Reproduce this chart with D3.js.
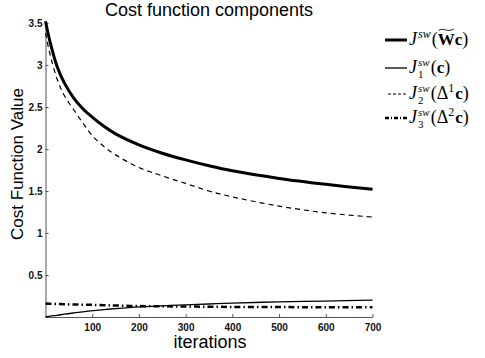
<!DOCTYPE html>
<html>
<head>
<meta charset="utf-8">
<script src="https://cdn.jsdelivr.net/npm/d3@7"></script>
<style>
  body { margin: 0; background: #fff; }
  svg { display: block; }
  .tick text { font-family: "Liberation Sans", Arial, sans-serif; font-weight: bold; font-size: 10px; fill: #111; }
</style>
</head>
<body>
<div id="chart"></div>
<script>
// values (iteration -> cost)
const iters = [0, 10, 25, 40, 60, 80, 100, 125, 150, 200, 250, 300, 350, 400, 500, 600, 700];
const jTotal = [3.52, 3.27, 2.98, 2.79, 2.61, 2.48, 2.38, 2.27, 2.18, 2.05, 1.95, 1.87, 1.80, 1.74, 1.65, 1.58, 1.52];
const jDelta1 = [3.38, 3.12, 2.83, 2.64, 2.47, 2.31, 2.16, 2.03, 1.93, 1.78, 1.68, 1.59, 1.50, 1.43, 1.32, 1.24, 1.19];
const jPlain = [0.0, 0.01, 0.02, 0.033, 0.048, 0.062, 0.075, 0.088, 0.10, 0.12, 0.133, 0.145, 0.155, 0.165, 0.18, 0.19, 0.20];
const jDelta2 = [0.16, 0.158, 0.155, 0.152, 0.149, 0.147, 0.145, 0.14, 0.137, 0.13, 0.127, 0.125, 0.122, 0.12, 0.118, 0.116, 0.115];

const xTicks = [100, 200, 300, 400, 500, 600, 700];
const yTicks = [0.5, 1, 1.5, 2, 2.5, 3, 3.5];

const width = 485, height = 358;

const svg = d3.select('#chart').append('svg')
  .attr('width', width)
  .attr('height', height);

const xScale = d3.scaleLinear().domain([0, 700]).range([45.5, 372.5]);
const yScale = d3.scaleLinear().domain([0, 3.5]).range([317, 23]);

// title
svg.append('text')
  .attr('x', 209)
  .attr('y', 16)
  .attr('text-anchor', 'middle')
  .style('font-family', '"Liberation Sans", Arial, sans-serif')
  .style('font-size', '18px')
  .text('Cost function components');

// axes
const xAxis = d3.axisBottom(xScale).tickValues(xTicks).tickSize(-3).tickSizeOuter(0).tickPadding(7);
const yAxis = d3.axisLeft(yScale).tickValues(yTicks).tickSize(-3).tickSizeOuter(0).tickPadding(3)
  .tickFormat(d3.format('~g'));

const gx = svg.append('g').attr('transform', `translate(0,${yScale(0)})`).call(xAxis);
const gy = svg.append('g').attr('transform', `translate(${xScale(0)},0)`).call(yAxis);
[gx, gy].forEach(g => {
  g.select('.domain').attr('stroke', '#555');
  g.selectAll('.tick line').attr('stroke', '#555');
});

svg.append('text')
  .attr('x', 210)
  .attr('y', 348)
  .attr('text-anchor', 'middle')
  .style('font-family', '"Liberation Sans", Arial, sans-serif')
  .style('font-size', '18px')
  .text('iterations');

svg.append('text')
  .attr('transform', 'translate(23,164) rotate(-90)')
  .attr('text-anchor', 'middle')
  .style('font-family', '"Liberation Sans", Arial, sans-serif')
  .style('font-size', '17px')
  .text('Cost Function Value');

// series
const series = [
  { values: jTotal, width: 3, dash: null },
  { values: jPlain, width: 1.3, dash: null },
  { values: jDelta1, width: 1.2, dash: '5,4' },
  { values: jDelta2, width: 2.5, dash: '6,3,1.5,3' }
];

const line = d3.line()
  .x(d => xScale(d[0]))
  .y(d => yScale(d[1]))
  .curve(d3.curveCatmullRom.alpha(0.5));

series.forEach(s => {
  svg.append('path')
    .datum(iters.map((it, i) => [it, s.values[i]]))
    .attr('fill', 'none')
    .attr('stroke', '#000')
    .attr('stroke-width', s.width)
    .attr('stroke-dasharray', s.dash)
    .attr('d', line);
});

// legend
const legendRows = [
  { y: 40, width: 3, dash: null, x0: 385, parts: [
    ['J', 'i'], ['sw', 'sup'], ['(', 'n'], ['W', 'bt'], ['c', 'b'], [')', 'n']] },
  { y: 68, width: 1.3, dash: null, x0: 385, parts: [
    ['J', 'i'], ['sw', 'supsub', '1'], ['(', 'n'], ['c', 'b'], [')', 'n']] },
  { y: 94, width: 1.2, dash: '3,2', x0: 388, parts: [
    ['J', 'i'], ['sw', 'supsub', '2'], ['(', 'n'], ['\u0394', 'n'], ['1', 'sup1'], ['c', 'b'], [')', 'n']] },
  { y: 118, width: 2.5, dash: '4,2,1,2', x0: 385, parts: [
    ['J', 'i'], ['sw', 'supsub', '3'], ['(', 'n'], ['\u0394', 'n'], ['2', 'sup1'], ['c', 'b'], [')', 'n']] }
];

const serif = '"Liberation Serif", "DejaVu Serif", serif';
const legend = svg.append('g');

legendRows.forEach(row => {
  legend.append('line')
    .attr('x1', row.x0).attr('x2', 407)
    .attr('y1', row.y).attr('y2', row.y)
    .attr('stroke', '#000')
    .attr('stroke-width', row.width)
    .attr('stroke-dasharray', row.dash);

  let x = 409;
  const base = row.y + 5;
  const put = (txt, size, dy, style, weight) => {
    const t = legend.append('text')
      .attr('x', x).attr('y', base + dy)
      .style('font-family', serif)
      .style('font-size', size + 'px')
      .style('font-style', style || 'normal')
      .style('font-weight', weight || 'normal')
      .text(txt);
    return t;
  };
  row.parts.forEach(p => {
    const [txt, kind, sub] = p;
    let t;
    if (kind === 'i') {
      t = put(txt, 18, 0, 'italic');
      x += t.node().getComputedTextLength() + 1;
    } else if (kind === 'sup') {
      t = put(txt, 12, -7, 'italic');
      x += t.node().getComputedTextLength() + 1;
    } else if (kind === 'supsub') {
      t = put(txt, 11, -7, 'italic');
      const w = t.node().getComputedTextLength();
      put(sub, 11, 5, 'normal');
      x += w + 1;
    } else if (kind === 'sup1') {
      t = put(txt, 12, -7, 'normal');
      x += t.node().getComputedTextLength() + 1;
    } else if (kind === 'b') {
      t = put(txt, 17, 0, 'normal', 'bold');
      x += t.node().getComputedTextLength();
    } else if (kind === 'bt') {
      t = put(txt, 17, 0, 'normal', 'bold');
      const w = t.node().getComputedTextLength();
      // wide tilde over W
      const tx = x, ty = base - 16;
      legend.append('path')
        .attr('d', `M${tx + 1},${ty + 1.5} C${tx + w * 0.3},${ty - 2} ${tx + w * 0.6},${ty + 4} ${tx + w - 1},${ty}`)
        .attr('fill', 'none')
        .attr('stroke', '#000')
        .attr('stroke-width', 0.9);
      x += w;
    } else {
      t = put(txt, 18, 0, 'normal');
      x += t.node().getComputedTextLength();
    }
  });
});
</script>
</body>
</html>
